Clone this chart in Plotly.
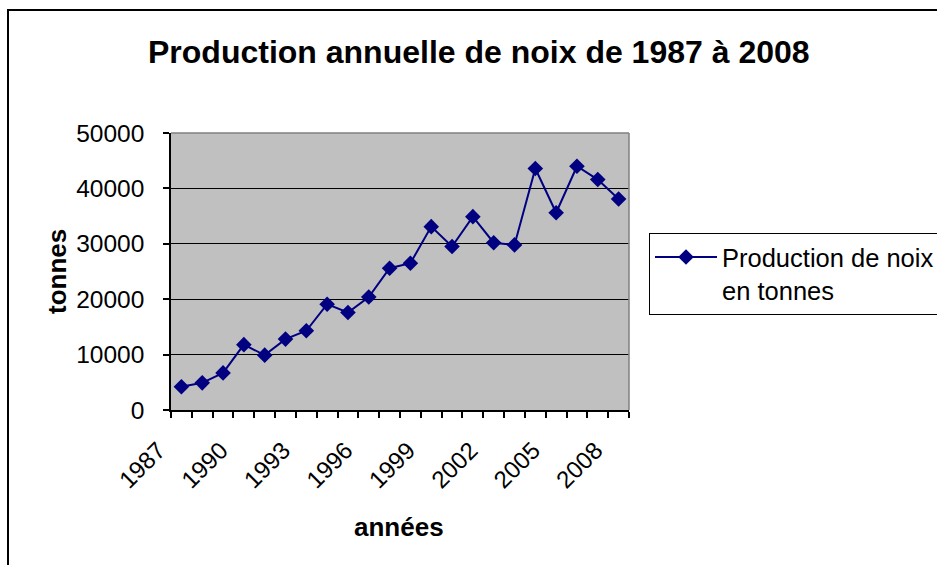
import plotly.graph_objects as go

years = list(range(1987, 2009))
production = [4200, 4900, 6700, 11800, 9900, 12800, 14300, 19100, 17600, 20400,
              25600, 26500, 33100, 29500, 34900, 30200, 29800, 43600, 35600, 44000,
              41600, 38100]
tick_years = [1987, 1990, 1993, 1996, 1999, 2002, 2005, 2008]
y_ticks = [0, 10000, 20000, 30000, 40000, 50000]

FONT = "Arial, Liberation Sans, sans-serif"
NAVY = "#000080"

fig = go.Figure()
fig.add_trace(go.Scatter(
    x=years, y=production, mode="lines+markers",
    name="Production de noix<br>en tonnes",
    line=dict(color=NAVY, width=2),
    marker=dict(symbol="diamond", size=12, color=NAVY),
))

W, H = 937, 565
L, R, T, B = 171, 629, 133, 410
PW, PH = R - L, B - T


def px(x):
    return (x - L) / PW


def py(y):
    return (B - y) / PH


fig.update_layout(
    width=W, height=H,
    margin=dict(l=L, r=W - R, t=T, b=H - B, pad=0, autoexpand=False),
    paper_bgcolor="white",
    plot_bgcolor="#C0C0C0",
    font=dict(family=FONT, color="black"),
    showlegend=True,
    legend=dict(
        x=px(649), xanchor="left",
        y=py(233), yanchor="top",
        bordercolor="black", borderwidth=1, bgcolor="white",
        font=dict(size=25.5, family=FONT),
        itemwidth=62, valign="top",
    ),
    xaxis=dict(
        range=[1986.5, 2008.5], automargin=False,
        tickvals=tick_years, ticktext=[str(y) for y in tick_years],
        tickangle=-45, tickfont=dict(size=24),
        ticks="outside", ticklen=6, tickcolor="rgba(0,0,0,0)",
        ticklabelshift=-23, ticklabelstandoff=9,
        minor=dict(tickvals=[y - 0.5 for y in years] + [2008.5], ticks="outside",
                   ticklen=6, tickcolor="black", tickwidth=1.5),
        showline=True, linecolor="black", linewidth=1.5,
        showgrid=False, zeroline=False,
    ),
    yaxis=dict(
        range=[0, 50000], tickvals=y_ticks, tickformat="d", automargin=False,
        tickfont=dict(size=24.5),
        ticks="outside", ticklen=6, tickcolor="black", tickwidth=1.5,
        ticklabelstandoff=14,
        showline=True, linecolor="black", linewidth=1.5,
        showgrid=True, gridcolor="black", gridwidth=1,
        zeroline=False,
    ),
    annotations=[
        dict(text="<b>Production annuelle de noix de 1987 à 2008</b>",
             xref="paper", yref="paper", x=px(479), y=py(52),
             xanchor="center", yanchor="middle", showarrow=False,
             font=dict(size=32, family=FONT)),
        dict(text="<b>tonnes</b>", textangle=-90,
             xref="paper", yref="paper", x=px(57), y=py(272),
             xanchor="center", yanchor="middle", showarrow=False,
             font=dict(size=26, family=FONT)),
        dict(text="<b>années</b>",
             xref="paper", yref="paper", x=px(399), y=py(527),
             xanchor="center", yanchor="middle", showarrow=False,
             font=dict(size=26, family=FONT)),
    ],
    shapes=[
        dict(type="line", xref="paper", yref="paper", x0=0, x1=1, y0=1, y1=1,
             line=dict(color="#808080", width=1.5), layer="above"),
        dict(type="line", xref="paper", yref="paper", x0=1, x1=1, y0=0, y1=1,
             line=dict(color="#808080", width=1.5), layer="above"),
        dict(type="rect", xref="paper", yref="paper",
             x0=px(8), x1=px(960), y0=py(600), y1=py(10),
             line=dict(color="black", width=2), layer="below"),
    ],
)

fig.write_html("out.html", config={"displayModeBar": False},
               post_script="document.body.style.margin='0';")
